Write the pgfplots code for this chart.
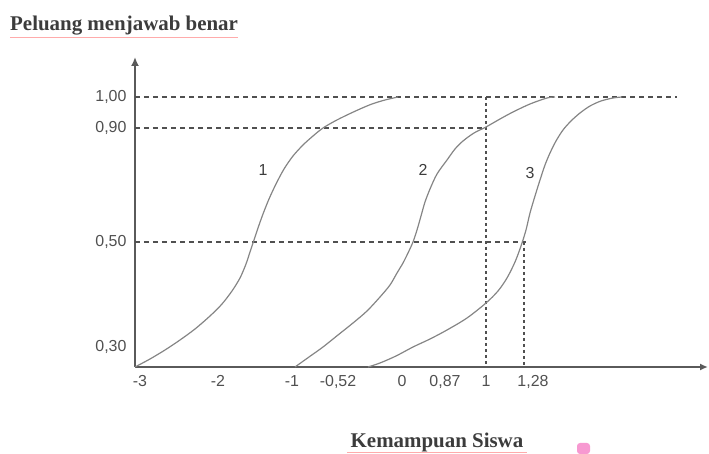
\documentclass[border=0pt]{standalone}
\usepackage{pgfplots}
\pgfplotsset{compat=1.18}
\usepackage{fontspec}
\setmainfont{Liberation Serif}
\newfontfamily\sansf{Liberation Sans}
\usetikzlibrary{arrows.meta}
\definecolor{axcol}{HTML}{5A5A5A}
\definecolor{curvecol}{HTML}{858585}
\definecolor{dashcol}{HTML}{505050}
\definecolor{txtcol}{HTML}{3C3C3C}
\definecolor{tickcol}{HTML}{505050}
\begin{document}
\begin{tikzpicture}
\begin{axis}[
  x=1bp, y=1bp,
  xmin=135, xmax=708, ymin=87, ymax=397,
  axis lines=left,
  axis line style={axcol, line width=2.2bp},
  x axis line style={-{Latex[length=8bp,width=7bp]}},
  y axis line style={-{Latex[length=9bp,width=8bp]}},
  clip=false,
  major tick length=0pt,
  xtick={140,218,292,338,402,445,486,533},
  xticklabels={{-3},{-2},{-1},{-0,52},{0},{0,87},{1},{1,28}},
  ytick={357,326,212,107},
  yticklabels={{1,00},{0,90},{0,50},{0,30}},
  ticklabel style={font=\sansf\fontsize{16}{18}\selectfont, text=tickcol},
  xticklabel style={yshift=-5bp},
  yticklabel style={xshift=-5bp},
  /pgf/number format/assume math mode=true,
]
% dashed reference lines
\addplot[dashcol, line width=1.2bp, dash pattern=on 5bp off 4bp] coordinates {(135,357) (677,357)};
\addplot[dashcol, line width=1.2bp, dash pattern=on 5bp off 4bp] coordinates {(135,326) (486,326)};
\addplot[dashcol, line width=1.2bp, dash pattern=on 5bp off 4bp] coordinates {(135,212) (526,212)};
\addplot[dashcol, line width=1.2bp, dash pattern=on 3bp off 3bp] coordinates {(486,357) (486,87)};
\addplot[dashcol, line width=1.2bp, dash pattern=on 3bp off 3bp] coordinates {(524,212) (524,87)};
% curve 1
\addplot[curvecol, line width=1.2bp, smooth] coordinates {
(135,87) (150,95) (165,104) (180,114) (195,125) (210,138) (222,150) (232,163)
(240,176) (246,190) (250,202) (254,214) (258,226) (263,240) (269,255) (276,270)
(284,285) (293,298) (303,309) (313,318) (323,326) (335,333) (347,339) (360,345)
(372,350) (385,354) (398,357)};
% curve 2
\addplot[curvecol, line width=1.2bp, smooth] coordinates {
(295,87) (309,97) (323,107) (338,119) (353,131) (367,143) (380,157) (390,169)
(397,181) (403,191) (408,201) (413,212) (417,224) (421,238) (425,252) (430,265)
(437,280) (447,294) (455,305) (463,313) (474,321) (486,327) (500,335) (513,342)
(530,350) (547,356) (555,357)};
% curve 3
\addplot[curvecol, line width=1.2bp, smooth] coordinates {
(368,87) (380,91) (396,98) (413,107) (430,115) (447,124) (467,136) (486,151)
(498,163) (507,176) (515,192) (521,208) (526,224) (530,241) (535,258) (540,274)
(545,289) (550,301) (556,313) (563,324) (571,333) (580,341) (590,348) (601,353)
(613,356) (622,357)};
% curve labels
\node[font=\sansf\fontsize{16}{18}\selectfont, text=txtcol] at (axis cs:263,284) {1};
\node[font=\sansf\fontsize{16}{18}\selectfont, text=txtcol] at (axis cs:423,284) {2};
\node[font=\sansf\fontsize{16}{18}\selectfont, text=txtcol] at (axis cs:530,281) {3};
% titles
\node[anchor=west, font=\bfseries\fontsize{21}{24}\selectfont, text=txtcol, inner sep=0pt] at (axis cs:10,428) {Peluang menjawab benar};
\draw[red!55, line width=0.9bp, opacity=0.6] (axis cs:10,417) -- (axis cs:238,417);
\node[font=\bfseries\fontsize{21}{24}\selectfont, text=txtcol, inner sep=0pt] at (axis cs:437,12) {Kemampuan Siswa};
\draw[red!55, line width=0.9bp, opacity=0.6] (axis cs:347,2) -- (axis cs:527,2);
\fill[magenta!40, rounded corners=3bp] (axis cs:577,0) rectangle (axis cs:590,11);
\coordinate (ll) at (axis cs:0,0);
\coordinate (ur) at (axis cs:709,454);
\end{axis}
\pgfresetboundingbox
\path[use as bounding box] (ll) rectangle (ur);
\end{tikzpicture}
\end{document}
